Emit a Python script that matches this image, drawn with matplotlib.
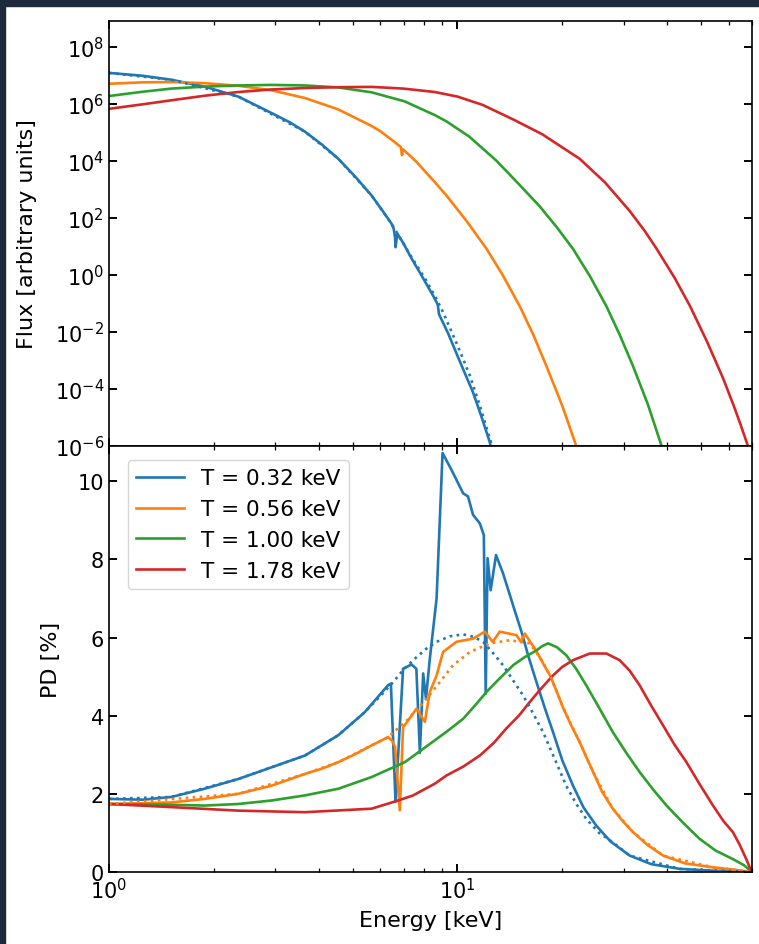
import numpy as np
import matplotlib
matplotlib.use('Agg')
import matplotlib.pyplot as plt
from matplotlib.patches import Rectangle
from matplotlib.ticker import NullLocator

# values (energy in keV)

labels = ['T = 0.32 keV', 'T = 0.56 keV', 'T = 1.00 keV', 'T = 1.78 keV']
colors = ['#1f77b4', '#ff7f0e', '#2ca02c', '#d62728']

# --- top panel: log10(flux)
e_flux_032 = [1.0, 1.25, 1.51, 1.88, 2.35, 2.93, 3.3, 3.65, 4.1, 4.55, 5.1, 5.67, 6.1, 6.47,
              6.56, 6.62, 6.64, 6.72, 7.0, 7.30, 7.55, 7.8, 8.15, 8.5, 8.71, 8.78, 8.85,
              9.4, 9.93, 10.5, 11.08, 11.7, 12.38, 12.5]
lf_032 = [7.08, 6.98, 6.84, 6.60, 6.25, 5.67, 5.35, 5.02, 4.55, 4.07, 3.43, 2.78, 2.24, 1.79,
          1.62, 1.30, 0.97, 1.45, 1.10, 0.68, 0.37, 0.08, -0.33, -0.72, -0.96, -1.05, -1.38,
          -2.05, -2.75, -3.45, -4.12, -4.95, -5.87, -6.1]
e_flux_032_mod = [1.0, 1.51, 2.35, 3.65, 4.55, 5.67, 6.47, 7.30, 8.15, 8.71, 9.09, 9.82,
                  10.3, 10.85, 11.6, 12.52, 12.6]
lf_032_mod = [7.08, 6.84, 6.25, 5.02, 4.07, 2.78, 1.79, 0.72, -0.22, -0.85, -1.31, -2.25,
              -2.85, -3.53, -4.6, -5.93, -6.1]

e_flux_056 = [1.0, 1.25, 1.51, 1.88, 2.35, 2.93, 3.65, 4.55, 5.67, 6.0, 6.5, 6.88, 6.93,
              6.98, 7.6, 8.61, 9.30, 10.6, 12.12, 13.5, 15.09, 16.5, 18.0, 20.0, 21.9, 22.1]
lf_056 = [6.70, 6.75, 6.76, 6.72, 6.63, 6.47, 6.20, 5.80, 5.22, 5.04, 4.72, 4.48, 4.20,
          4.40, 3.98, 3.25, 2.78, 1.90, 0.91, -0.02, -1.10, -2.10, -3.20, -4.60, -5.99, -6.15]

e_flux_100 = [1.0, 1.25, 1.51, 1.88, 2.35, 2.93, 3.65, 4.55, 5.67, 7.06, 8.61, 9.30, 10.8,
              12.94, 15.0, 17.22, 19.3, 21.45, 24.0, 26.75, 29.2, 31.9, 35.2, 38.5, 38.9]
lf_100 = [6.27, 6.42, 6.53, 6.60, 6.64, 6.66, 6.64, 6.57, 6.40, 6.08, 5.60, 5.38, 4.85,
          4.0, 3.18, 2.40, 1.66, 0.91, -0.05, -1.10, -2.10, -3.20, -4.55, -5.99, -6.15]

e_flux_178 = [1.0, 1.25, 1.51, 1.88, 2.35, 2.93, 3.65, 4.55, 5.67, 7.0, 8.61, 10.0, 11.8,
              14.44, 17.5, 22.42, 26.5, 31.2, 34.5, 37.2, 42.0, 46.5, 52.0, 57.8, 62.0,
              65.0, 68.1, 68.6]
lf_178 = [5.82, 5.98, 6.12, 6.28, 6.41, 6.50, 6.55, 6.58, 6.59, 6.53, 6.41, 6.25, 5.96,
          5.45, 4.93, 4.07, 3.24, 2.24, 1.53, 0.93, -0.11, -1.10, -2.34, -3.62, -4.58,
          -5.27, -5.99, -6.15]

# --- bottom panel: polarisation degree [%]
e_pd_032 = [1.0, 1.25, 1.51, 1.88, 2.35, 2.93, 3.65, 4.55, 5.42, 6.32, 6.44, 6.64, 6.98,
            7.38, 7.62, 7.80, 7.97, 8.12, 8.33, 8.71, 9.06, 9.61, 10.38, 10.72, 11.08,
            11.59, 11.9, 12.05, 12.2, 12.45, 12.9, 13.5, 14.12, 14.7, 15.26, 16.0, 16.85,
            17.8, 18.8, 20.0, 21.45, 23.0, 25.0, 27.5, 31.2, 36.0, 43.4, 55.0, 69.8]
pd_032 = [1.87, 1.85, 1.92, 2.13, 2.38, 2.68, 2.98, 3.50, 4.09, 4.78, 4.82, 1.80, 5.20,
          5.31, 5.20, 3.05, 5.08, 4.44, 5.46, 7.0, 10.72, 10.29, 9.69, 9.61, 9.14,
          8.92, 8.62, 4.56, 8.03, 7.21, 8.11, 7.65, 7.10, 6.60, 6.15, 5.50, 4.86,
          4.20, 3.58, 2.85, 2.21, 1.65, 1.19, 0.78, 0.42, 0.20, 0.08, 0.03, 0.0]
e_pd_032_mod = [1.0, 1.51, 2.35, 3.65, 4.55, 5.42, 6.0, 6.54, 7.0, 7.46, 8.1, 8.71, 9.5,
                10.38, 11.1, 11.84, 12.6, 13.51, 14.4, 15.42, 16.5, 17.6, 19.0, 20.5,
                21.9, 23.4, 25.5, 27.9, 31.2, 43.4, 69.8]
pd_032_mod = [1.87, 1.92, 2.38, 2.98, 3.50, 4.09, 4.50, 4.86, 5.18, 5.42, 5.70, 5.89, 6.03,
              6.08, 6.02, 5.89, 5.62, 5.29, 4.92, 4.52, 4.05, 3.58, 2.90, 2.21,
              1.75, 1.36, 1.00, 0.76, 0.42, 0.08, 0.0]

e_pd_056 = [1.0, 1.25, 1.51, 1.88, 2.35, 2.93, 3.65, 4.1, 4.55, 5.1, 5.67, 6.32, 6.48, 6.62,
            6.83, 6.98, 7.63, 8.06, 8.33, 8.71, 9.09, 9.93, 11.08, 11.98, 12.62, 13.22,
            14.76, 15.2, 15.6, 16.85, 17.7, 18.5, 19.3, 20.1, 21.2, 22.4, 23.4, 24.5, 26.0,
            27.9, 29.8, 31.9, 35.0, 38.9, 45.0, 54.1, 62.0, 69.8]
pd_056 = [1.74, 1.76, 1.78, 1.87, 2.00, 2.21, 2.51, 2.65, 2.81, 3.02, 3.24, 3.45, 3.37, 3.20,
          1.58, 3.70, 4.18, 3.84, 4.61, 5.03, 5.63, 5.89, 5.97, 6.15, 5.89, 6.15,
          6.06, 5.89, 6.10, 5.65, 5.30, 5.00, 4.60, 4.20, 3.75, 3.33, 2.95, 2.56, 2.05,
          1.62, 1.30, 1.02, 0.70, 0.42, 0.22, 0.12, 0.06, 0.0]
e_pd_056_mod = [1.0, 2.35, 3.65, 4.55, 5.67, 6.32, 7.2, 8.0, 8.9, 9.71, 10.85, 12.38,
                14.12, 16.12, 17.5, 18.5, 20.1, 22.4, 24.5, 27.9, 31.9, 38.9, 54.1, 69.8]
pd_056_mod = [1.74, 2.00, 2.51, 2.81, 3.24, 3.45, 3.9, 4.35, 4.86, 5.29, 5.63, 5.85,
              5.93, 5.85, 5.4, 5.0, 4.2, 3.33, 2.56, 1.62, 1.02, 0.42, 0.12, 0.0]

e_pd_100 = [1.0, 1.51, 1.88, 2.35, 2.93, 3.65, 4.55, 5.67, 7.06, 8.61, 9.4, 10.38, 11.2,
            12.12, 13.2, 14.44, 15.6, 16.85, 17.5, 18.2, 19.3, 20.5, 21.9, 23.4, 25.5,
            27.9, 30.5, 33.3, 36.5, 39.8, 44.5, 49.5, 55.0, 61.7, 66.5, 69.8]
pd_100 = [1.74, 1.72, 1.70, 1.74, 1.83, 1.96, 2.13, 2.43, 2.81, 3.37, 3.62, 3.92, 4.25,
          4.61, 4.95, 5.29, 5.50, 5.67, 5.78, 5.85, 5.75, 5.55, 5.20, 4.78, 4.20,
          3.58, 3.05, 2.56, 2.10, 1.70, 1.25, 0.85, 0.55, 0.33, 0.17, 0.0]

e_pd_178 = [1.0, 1.51, 2.35, 3.65, 5.67, 6.76, 7.46, 8.61, 9.30, 10.4, 11.59, 12.7, 13.8,
            15.0, 16.12, 17.4, 18.8, 20.0, 21.45, 23.95, 26.75, 29.2, 31.2, 33.3, 36.0,
            38.9, 42.0, 45.4, 49.5, 54.1, 58.0, 61.7, 64.5, 67.4, 69.8]
pd_178 = [1.74, 1.66, 1.57, 1.53, 1.62, 1.83, 1.96, 2.26, 2.47, 2.70, 2.98, 3.30, 3.67,
          4.00, 4.35, 4.70, 5.03, 5.25, 5.42, 5.59, 5.59, 5.42, 5.15, 4.78, 4.25,
          3.75, 3.25, 2.81, 2.25, 1.70, 1.30, 1.02, 0.70, 0.33, 0.0]

flux_e = [e_flux_032, e_flux_056, e_flux_100, e_flux_178]
flux_lf = [lf_032, lf_056, lf_100, lf_178]
pd_e = [e_pd_032, e_pd_056, e_pd_100, e_pd_178]
pd_v = [pd_032, pd_056, pd_100, pd_178]

plt.rcParams['font.family'] = 'DejaVu Sans'

W, H = 759, 945
fig = plt.figure(figsize=(W / 100, H / 100), dpi=100)

# dark frame strips of the screenshot
fig.patches.append(Rectangle((0, 1 - 7 / H), 1, 7 / H, transform=fig.transFigure,
                             color='#1e293b', zorder=0))
fig.patches.append(Rectangle((0, 0), 5 / W, 1, transform=fig.transFigure,
                             color='#1e293b', zorder=0))

left = 109 / W
width = (752 - 109) / W
ax1 = fig.add_axes((left, 1 - 447 / H, width, (447 - 22) / H))
ax2 = fig.add_axes((left, 1 - 873 / H, width, (873 - 447) / H), sharex=ax1)

lw = 1.9
for e, lf, c in zip(flux_e, flux_lf, colors):
    ax1.plot(e, 10 ** np.array(lf), c=c, lw=lw)
ax1.plot(e_flux_032_mod, 10 ** np.array(lf_032_mod), c=colors[0], lw=lw, ls=':')

for e, v, c, lab in zip(pd_e, pd_v, colors, labels):
    ax2.plot(e, v, c=c, lw=lw, label=lab)
ax2.plot(e_pd_032_mod, pd_032_mod, c=colors[0], lw=lw, ls=':')
ax2.plot(e_pd_056_mod, pd_056_mod, c=colors[1], lw=lw, ls=':')

ax1.set_xscale('log')
ax1.set_yscale('log')
ax1.set_xlim(1, 70)
ax1.set_ylim(1e-6, 10 ** 8.9)
ax1.set_yticks([10.0 ** k for k in range(-6, 9, 2)])
ax1.yaxis.set_minor_locator(NullLocator())
ax1.tick_params(labelbottom=False)
ax1.set_ylabel('Flux [arbitrary units]', fontsize=16, labelpad=13)

ax2.set_ylim(0, 10.9)
ax2.set_yticks([0, 2, 4, 6, 8, 10])
ax2.set_xlabel('Energy [keV]', fontsize=16, labelpad=6)
ax2.set_ylabel('PD [%]', fontsize=16, labelpad=12)

for ax in (ax1, ax2):
    ax.tick_params(which='both', direction='in', top=True, right=True, labelsize=15)
    ax.tick_params(which='major', length=6, width=1.4)
    ax.tick_params(which='minor', length=3, width=0.9)
    for s in ax.spines.values():
        s.set_linewidth(1.2)

ax2.legend(loc='upper left', bbox_to_anchor=(0.0125, 0.993), fontsize=15.5,
           handlelength=2.2, framealpha=0.8)

fig.savefig('out.png', dpi=100)
